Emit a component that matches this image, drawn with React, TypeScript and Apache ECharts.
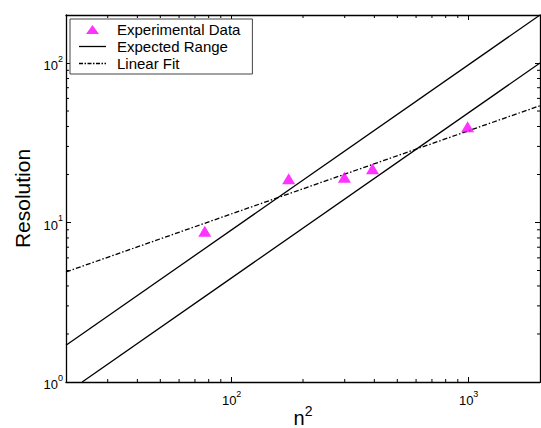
import React, { useEffect, useRef } from 'react';
import * as echarts from 'echarts';

// Experimental data (n^2, Resolution)
const expX = [77, 174, 299, 393, 990];
const expY = [8.8, 18.8, 19.2, 21.7, 39.8];

// Expected range bounds (end points)
const upperX = [20, 2000];
const upperY = [1.7, 200];
const lowerX = [23.4, 2000];
const lowerY = [1, 100];

// Linear fit (end points)
const fitX = [20, 2000];
const fitY = [4.9, 54];

// Minor tick positions
const xMinorTicks = [30, 40, 50, 60, 70, 80, 90, 200, 300, 400, 500, 600, 700, 800, 900];
const yMinorTicks = [2, 3, 4, 5, 6, 7, 8, 9, 20, 30, 40, 50, 60, 70, 80, 90];

const FONT = 'Liberation Sans, Arial, sans-serif';

const zip = (xs: number[], ys: number[]) => xs.map((x, i) => [x, ys[i]]);

const powLabel = (v: number) => {
  const e = Math.log10(v);
  const r = Math.round(e);
  if (Math.abs(e - r) < 1e-6) return `{b|10}{s|${r}}`;
  return '';
};

const labelRich = {
  b: { fontSize: 13, fontFamily: FONT, color: '#000', lineHeight: 18, verticalAlign: 'bottom' },
  s: { fontSize: 9, fontFamily: FONT, color: '#000', lineHeight: 10, verticalAlign: 'top' },
};

// legend icons (27 x 14 boxes; the corner moves keep the bounding box at full size)
const segIcon = (segs: number[][]) =>
  'path://M0,0' + segs.map(([a, b]) => `M${a},6.35H${b}V7.65H${a}Z`).join('') + 'M27,14';
const solidIcon = segIcon([[0, 27]]);
const dashDotIcon = segIcon([
  [0, 4], [5.5, 7], [8.5, 12.5], [14, 15.5], [17, 21], [22.5, 24], [25.5, 27],
]);
const triIcon = 'path://M0,0M13.5,2.5L20,11.5H7ZM27,14';

export default function App() {
  const ref = useRef<HTMLDivElement>(null);
  useEffect(() => {
    if (!ref.current) return;
    const chart = echarts.init(ref.current, null, { renderer: 'svg' });
    const axisLine = { show: true, lineStyle: { color: '#000', width: 1.3 } };
    const tick = { show: true, inside: true, length: 5, lineStyle: { color: '#000', width: 1 } };
    const minorTickSeries = (kind: 'x' | 'y') => ({
      type: 'custom',
      silent: true,
      data: kind === 'x' ? xMinorTicks.map((v) => [v, 1]) : yMinorTicks.map((v) => [20, v]),
      renderItem: (params: any, api: any) => {
        const cs = params.coordSys;
        const p = api.coord([api.value(0), api.value(1)]);
        const L = 3;
        const style = { stroke: '#000', lineWidth: 1 };
        if (kind === 'x') {
          const bottom = cs.y + cs.height;
          return {
            type: 'group',
            children: [
              { type: 'line', shape: { x1: p[0], y1: bottom, x2: p[0], y2: bottom - L }, style },
              { type: 'line', shape: { x1: p[0], y1: cs.y, x2: p[0], y2: cs.y + L }, style },
            ],
          };
        }
        const right = cs.x + cs.width;
        return {
          type: 'group',
          children: [
            { type: 'line', shape: { x1: cs.x, y1: p[1], x2: cs.x + L, y2: p[1] }, style },
            { type: 'line', shape: { x1: right, y1: p[1], x2: right - L, y2: p[1] }, style },
          ],
        };
      },
      z: 3,
    });
    chart.setOption({
      animation: false,
      backgroundColor: '#fff',
      grid: {
        left: 66,
        top: 15,
        right: 1,
        bottom: 46,
        containLabel: false,
        outerBoundsMode: 'none',
      },
      legend: {
        data: [
          { name: 'Experimental Data', icon: triIcon },
          { name: 'Expected Range', icon: solidIcon },
          { name: 'Linear Fit', icon: dashDotIcon },
        ],
        orient: 'vertical',
        left: 70,
        top: 19,
        itemWidth: 27,
        itemHeight: 14,
        itemGap: 2,
        symbolKeepAspect: false,
        padding: [3, 12, 3, 9],
        borderColor: '#444',
        borderWidth: 1,
        borderRadius: 0,
        backgroundColor: '#fff',
        selectedMode: false,
        textStyle: {
          fontSize: 15,
          lineHeight: 14,
          fontFamily: FONT,
          color: '#000',
          padding: [0, 0, 0, 6],
        },
      },
      xAxis: [
        {
          type: 'log',
          logBase: 10,
          min: 20,
          max: 2000,
          position: 'bottom',
          axisLine,
          axisTick: tick,
          splitLine: { show: false },
          axisLabel: { formatter: powLabel, rich: labelRich, margin: 7 },
          name: '{n|n}{s|2}',
          nameLocation: 'middle',
          nameGap: 22,
          nameMoveOverlap: false,
          nameTextStyle: {
            rich: {
              n: { fontSize: 20, fontFamily: FONT, color: '#000', lineHeight: 24, verticalAlign: 'bottom' },
              s: { fontSize: 14, fontFamily: FONT, color: '#000', lineHeight: 4, verticalAlign: 'top' },
            },
          },
        },
        {
          type: 'log',
          logBase: 10,
          min: 20,
          max: 2000,
          position: 'top',
          axisLine,
          axisTick: tick,
          splitLine: { show: false },
          axisLabel: { show: false },
        },
      ],
      yAxis: [
        {
          type: 'log',
          logBase: 10,
          min: 1,
          max: 200,
          position: 'left',
          axisLine,
          axisTick: tick,
          splitLine: { show: false },
          axisLabel: { formatter: powLabel, rich: labelRich, margin: 3 },
          name: 'Resolution',
          nameLocation: 'middle',
          nameGap: 33,
          nameMoveOverlap: false,
          nameTextStyle: { fontSize: 21, fontFamily: FONT, color: '#000' },
        },
        {
          type: 'log',
          logBase: 10,
          min: 1,
          max: 200,
          position: 'right',
          axisLine,
          axisTick: tick,
          splitLine: { show: false },
          axisLabel: { show: false },
        },
      ],
      series: [
        {
          name: 'Expected Range',
          type: 'line',
          data: zip(upperX, upperY),
          showSymbol: false,
          symbol: 'none',
          lineStyle: { color: '#000', width: 1.3 },
          itemStyle: { color: '#000' },
          z: 2,
        },
        {
          name: 'Expected Range',
          type: 'line',
          data: zip(lowerX, lowerY),
          showSymbol: false,
          symbol: 'none',
          lineStyle: { color: '#000', width: 1.3 },
          itemStyle: { color: '#000' },
          z: 2,
        },
        {
          name: 'Linear Fit',
          type: 'line',
          data: zip(fitX, fitY),
          showSymbol: false,
          symbol: 'none',
          lineStyle: { color: '#000', width: 1.3, type: [5, 2, 1.5, 2] },
          itemStyle: { color: '#000' },
          z: 2,
        },
        {
          name: 'Experimental Data',
          type: 'scatter',
          data: zip(expX, expY),
          symbol: 'triangle',
          symbolSize: [13, 11],
          itemStyle: { color: '#ff00ff' },
          z: 4,
        },
        minorTickSeries('x'),
        minorTickSeries('y'),
      ],
    });
    return () => chart.dispose();
  }, []);
  return (
    <div
      ref={ref}
      style={{ position: 'fixed', left: 0, top: 0, width: 541, height: 428, background: '#fff' }}
    />
  );
}
